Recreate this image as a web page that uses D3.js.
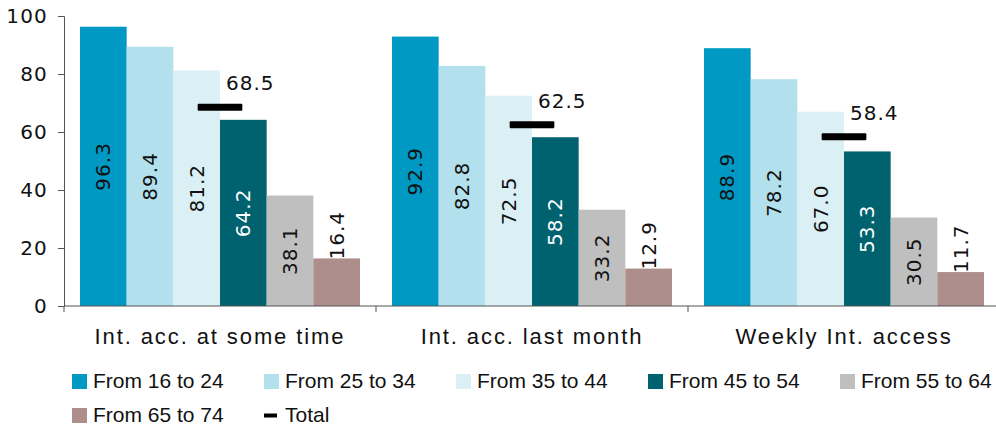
<!DOCTYPE html>
<html>
<head>
<meta charset="utf-8">
<script src="https://cdn.jsdelivr.net/npm/d3@7"></script>
<style>
  html, body { margin: 0; padding: 0; background: #fff; }
  svg { display: block; }
</style>
</head>
<body>
<svg id="chart" width="996" height="425"></svg>
<script>
// Internet access by age group (%)
const categories = ["Int. acc. at some time", "Int. acc. last month", "Weekly Int. access"];
const ageGroups = ["From 16 to 24", "From 25 to 34", "From 35 to 44", "From 45 to 54", "From 55 to 64", "From 65 to 74"];
const values16to24 = [96.3, 92.9, 88.9];
const values25to34 = [89.4, 82.8, 78.2];
const values35to44 = [81.2, 72.5, 67.0];
const values45to54 = [64.2, 58.2, 53.3];
const values55to64 = [38.1, 33.2, 30.5];
const values65to74 = [16.4, 12.9, 11.7];
const totals = [68.5, 62.5, 58.4];
const yTicks = [0, 20, 40, 60, 80, 100];

const seriesValues = [values16to24, values25to34, values35to44, values45to54, values55to64, values65to74];
const colors = ["#0099c4", "#b2e0ec", "#dbf0f5", "#00616f", "#bfbfbf", "#ad8e8a"];
const labelColors = ["#111", "#111", "#111", "#fff", "#111", "#111"];

const svg = d3.select("#chart");
const plotLeft = 64, plotRight = 1000, plotTop = 16, plotBottom = 306;

const x0 = d3.scaleBand().domain(categories).range([plotLeft, plotRight]).padding(0);
const x1 = d3.scaleBand().domain(ageGroups).range([16, x0.bandwidth() - 16]).padding(0);
const y = d3.scaleLinear().domain([0, 100]).range([plotBottom, plotTop]);

const numFont = "'DejaVu Sans', sans-serif";
const fmt = d3.format(".1f");

// Bars
const groups = svg.append("g").selectAll("g")
  .data(categories)
  .join("g")
  .attr("transform", d => `translate(${x0(d)},0)`);

groups.each(function(cat, ci) {
  const g = d3.select(this);
  ageGroups.forEach((age, si) => {
    const v = seriesValues[si][ci];
    g.append("rect")
      .attr("x", x1(age))
      .attr("y", y(v))
      .attr("width", x1.bandwidth())
      .attr("height", y(0) - y(v))
      .attr("fill", colors[si]);
  });
});

// Rotated value labels inside (or just above short) bars
groups.each(function(cat, ci) {
  const g = d3.select(this);
  ageGroups.forEach((age, si) => {
    const v = seriesValues[si][ci];
    const h = y(0) - y(v);
    const cx = x1(age) + x1.bandwidth() / 2;
    const fits = h > 60;
    const cy = fits ? (y(v) + y(0)) / 2 : y(v) + 1;
    g.append("text")
      .attr("transform", `translate(${cx + 7},${cy}) rotate(-90)`)
      .attr("text-anchor", fits ? "middle" : "start")
      .attr("font-family", numFont)
      .attr("font-size", 20)
      .attr("letter-spacing", 1)
      .attr("fill", fits ? labelColors[si] : "#111")
      .text(fmt(v));
  });
});

// Total markers
groups.each(function(cat, ci) {
  const g = d3.select(this);
  const cx = x1(ageGroups[3]);
  const w = x1.bandwidth() - 2;
  g.append("rect")
    .attr("x", cx - w / 2)
    .attr("y", y(totals[ci]) - 3.5)
    .attr("width", w)
    .attr("height", 7)
    .attr("rx", 1)
    .attr("fill", "#000");
  g.append("text")
    .attr("x", cx + 6)
    .attr("y", y(totals[ci]) - 17)
    .attr("font-family", numFont)
    .attr("font-size", 20)
    .attr("letter-spacing", 1)
    .attr("fill", "#111")
    .text(fmt(totals[ci]));
});

// Y axis
const yAxis = svg.append("g")
  .attr("transform", `translate(${plotLeft},0)`)
  .call(d3.axisLeft(y).tickValues(yTicks).tickSize(6).tickPadding(10).tickFormat(d3.format("d")));
yAxis.select(".domain").attr("stroke", "#555");
yAxis.selectAll(".tick line").attr("stroke", "#555");
yAxis.selectAll("text")
  .attr("font-family", numFont)
  .attr("font-size", 20)
  .attr("letter-spacing", 1.2)
  .attr("fill", "#111");

// X axis with ticks at group boundaries
const xAxisG = svg.append("g").attr("transform", `translate(0,${plotBottom})`);
xAxisG.append("line")
  .attr("x1", plotLeft).attr("x2", 996)
  .attr("stroke", "#555");
xAxisG.selectAll("line.tick")
  .data(categories)
  .join("line")
  .attr("class", "tick")
  .attr("x1", d => x0(d)).attr("x2", d => x0(d))
  .attr("y1", 0).attr("y2", 6)
  .attr("stroke", "#555");
xAxisG.selectAll("text")
  .data(categories)
  .join("text")
  .attr("x", d => x0(d) + x0.bandwidth() / 2)
  .attr("y", 38)
  .attr("text-anchor", "middle")
  .attr("font-family", "'Liberation Sans', Arial, sans-serif")
  .attr("font-size", 22)
  .attr("letter-spacing", 1.9)
  .attr("fill", "#111")
  .text(d => d);

// Legend
const legendItems = ageGroups.map((name, i) => ({ name, color: colors[i], type: "box" }))
  .concat([{ name: "Total", color: "#000", type: "line" }]);
const legend = svg.append("g");
legendItems.forEach((item, i) => {
  const col = i % 5, row = Math.floor(i / 5);
  const lx = 72 + col * 192;
  const ly = 374 + row * 34;
  const it = legend.append("g").attr("transform", `translate(${lx},${ly})`);
  if (item.type === "box") {
    it.append("rect").attr("width", 15).attr("height", 15).attr("fill", item.color);
  } else {
    it.append("rect").attr("x", 0).attr("y", 5.5).attr("width", 13).attr("height", 4).attr("fill", item.color);
  }
  it.append("text")
    .attr("x", 21)
    .attr("y", 14)
    .attr("font-family", "'Liberation Sans', Arial, sans-serif")
    .attr("font-size", 21)
    .attr("fill", "#111")
    .text(item.name);
});
</script>
</body>
</html>
